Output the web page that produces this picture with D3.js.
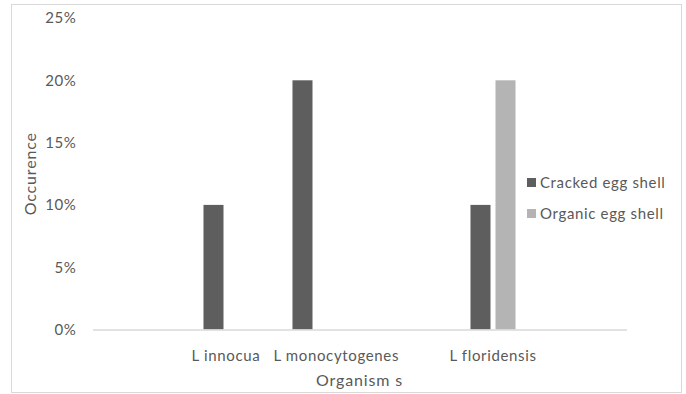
<!DOCTYPE html>
<html>
<head>
<meta charset="utf-8">
<script src="https://cdn.jsdelivr.net/npm/d3@7"></script>
<style>
  html, body { margin: 0; padding: 0; background: #fff; }
  svg { display: block; }
  text { font-family: Lato, "Open Sans", sans-serif; fill: #595959; }
</style>
</head>
<body>
<svg id="chart" width="686" height="394"></svg>
<script>
// Organism slots along the category axis (empty slots keep their spacing)
const categories = ["", "L innocua", "L monocytogenes", "", "L floridensis", ""];
const seriesNames = ["Cracked egg shell", "Organic egg shell"];
const crackedValues = [null, 0.10, 0.20, null, 0.10, null];
const organicValues = [null, 0, 0, null, 0.20, null];
const yTicks = [0, 0.05, 0.10, 0.15, 0.20, 0.25];
const xTitle = "Organism s";
const yTitle = "Occurence";

const seriesValues = [crackedValues, organicValues];
const colors = ["#5e5e5e", "#b4b4b4"];

const plot = { left: 92.5, right: 626.5, top: 18, bottom: 329.5 };
const labelFont = { size: "15px", spacing: "0.65px" };
const titleFont = { size: "16px", spacing: "0.85px" };

const svg = d3.select("#chart");

// Chart frame
svg.append("rect")
  .attr("x", 11.5).attr("y", 4.5)
  .attr("width", 670).attr("height", 388)
  .attr("fill", "#fff").attr("stroke", "#d9d9d9").attr("stroke-width", 1);

const x = d3.scaleBand()
  .domain(d3.range(categories.length))
  .range([plot.left, plot.right])
  .padding(0);

const clusterWidth = x.bandwidth() * 0.506;
const xs = d3.scaleBand()
  .domain(seriesNames)
  .range([-clusterWidth / 2, clusterWidth / 2])
  .paddingInner(0.2)
  .paddingOuter(0);

const y = d3.scaleLinear()
  .domain([0, 0.25])
  .range([plot.bottom, plot.top]);

function styleLabel(sel, f) {
  sel.style("font-size", f.size)
    .style("letter-spacing", f.spacing)
    .style("font-family", "Lato, sans-serif")
    .attr("fill", "#595959");
}

// Y axis: labels only
const yAxis = svg.append("g")
  .attr("transform", `translate(${plot.left},0)`)
  .call(d3.axisLeft(y).tickValues(yTicks).tickFormat(d3.format(".0%")).tickSize(0).tickPadding(16));
yAxis.select(".domain").remove();
styleLabel(yAxis.selectAll("text"), labelFont);

// Bars
seriesNames.forEach((name, si) => {
  const rows = seriesValues[si]
    .map((v, i) => ({ i, v }))
    .filter(d => d.v !== null);
  svg.append("g")
    .selectAll("rect")
    .data(rows)
    .join("rect")
    .attr("x", d => x(d.i) + x.bandwidth() / 2 + xs(name))
    .attr("width", xs.bandwidth())
    .attr("y", d => y(d.v))
    .attr("height", d => y(0) - y(d.v))
    .attr("fill", colors[si]);
});

// X axis
const xAxis = svg.append("g")
  .attr("transform", `translate(0,${plot.bottom})`)
  .call(d3.axisBottom(x).tickFormat(i => categories[i]).tickSize(0).tickPadding(21));
xAxis.select(".domain").attr("stroke", "#d9d9d9").attr("stroke-width", 1.5);
styleLabel(xAxis.selectAll("text"), labelFont);

// Push overlapping category labels to the right, keeping a small gap
let prevRight = -Infinity;
xAxis.selectAll(".tick text").each(function () {
  if (!this.textContent) return;
  const b = this.getBBox();
  const tx = +this.parentNode.getAttribute("transform").match(/translate\(([-\d.]+)/)[1];
  let left = tx + b.x;
  const gap = 13;
  if (left < prevRight + gap) {
    const shift = prevRight + gap - left;
    d3.select(this).attr("x", shift);
    left += shift;
  }
  prevRight = left + b.width;
});

// Axis titles
styleLabel(svg.append("text")
  .attr("x", (plot.left + plot.right) / 2)
  .attr("y", 386)
  .attr("text-anchor", "middle")
  .text(xTitle), titleFont);

styleLabel(svg.append("text")
  .attr("transform", `translate(36,${(plot.top + plot.bottom) / 2}) rotate(-90)`)
  .attr("text-anchor", "middle")
  .text(yTitle), titleFont);

// Legend
const legend = svg.append("g").attr("transform", "translate(527,178)");
seriesNames.forEach((name, i) => {
  const row = legend.append("g").attr("transform", `translate(0,${i * 31})`);
  row.append("rect").attr("width", 9).attr("height", 9).attr("fill", colors[i]);
  styleLabel(row.append("text").attr("x", 13).attr("y", 9.5).text(name), labelFont);
});
</script>
</body>
</html>
